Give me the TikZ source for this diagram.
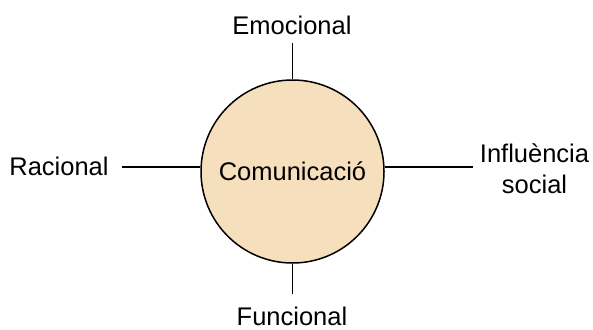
\documentclass[tikz,border=0pt]{standalone}
\usepackage{fontspec}
\setmainfont{Liberation Sans}
\usetikzlibrary{positioning}
\definecolor{beix}{HTML}{F5DFBC}

\begin{document}
\begin{tikzpicture}[x=1pt,y=-1pt,
		every node/.style={font=\fontsize{25.5}{31}\selectfont, inner sep=0pt},
		eix/.style={line width=1.5pt}]
	\useasboundingbox (0,0) rectangle (593,329);
	\node[circle, draw, line width=1.5pt, fill=beix, minimum size=183pt] (com) at (292.5,171.5) {Comunicació};
	\node[anchor=base] (emo) at (292,34.5) {Emocional};
	\node[anchor=base] (fun) at (292,325) {Funcional};
	\node[anchor=base] (rac) at (59,175) {Racional};
	\node[align=center] (inf) at (534.5,169) {Influència\\social};
	% trams
	\coordinate (e1) at (292.5,43);
	\coordinate (f1) at (292.5,294);
	\coordinate (r1) at (121.5,167);
	\coordinate (i1) at (473,167);
	\draw[eix] (e1) -- (com.north);
	\draw[eix] (com.south) -- (f1);
	\draw[eix] (r1) -- (r1 -| com.west);
	\draw[eix] (i1 -| com.east) -- (i1);
\end{tikzpicture}
\end{document}
